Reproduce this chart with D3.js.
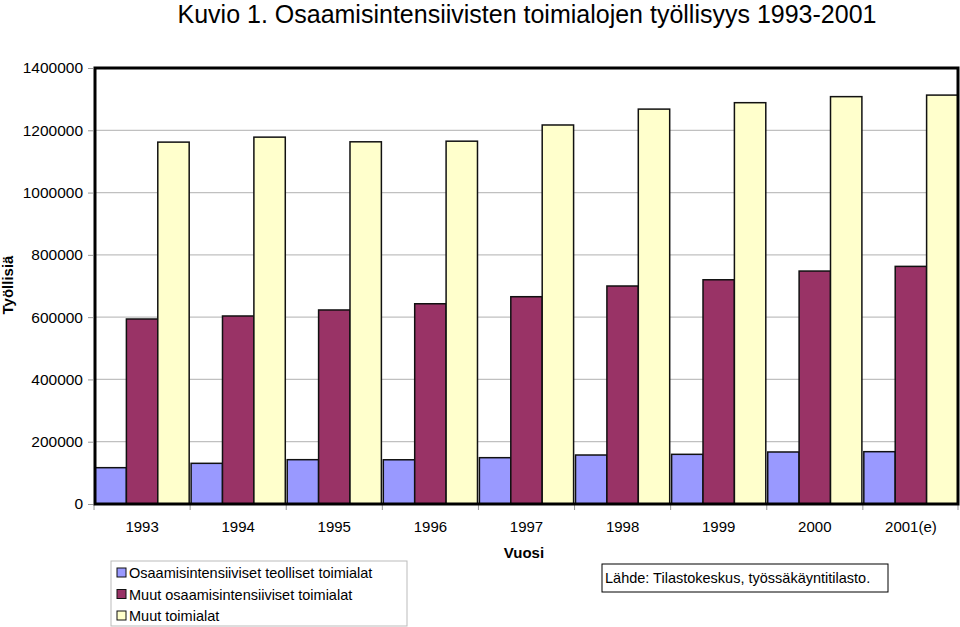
<!DOCTYPE html>
<html>
<head>
<meta charset="utf-8">
<script src="https://cdn.jsdelivr.net/npm/d3@7"></script>
<style>
  body { margin: 0; background: #fff; }
  svg { display: block; font-family: Arial, "Liberation Sans", Helvetica, sans-serif; }
</style>
</head>
<body>
<svg id="chart" width="960" height="627"></svg>
<script>
// years on the x axis
var years = ["1993", "1994", "1995", "1996", "1997", "1998", "1999", "2000", "2001(e)"];

// employed persons per series
var teolliset = [116600, 130600, 142300, 142000, 148700, 157300, 159500, 167000, 168000];
var muutOsaamis = [594000, 603700, 623000, 643000, 665600, 700000, 720000, 748000, 763000];
var muutToimialat = [1162000, 1178000, 1163000, 1165000, 1217000, 1268000, 1288600, 1308000, 1313000];

var seriesNames = ["Osaamisintensiiviset teolliset toimialat", "Muut osaamisintensiiviset toimialat", "Muut toimialat"];
var seriesColors = ["#9999ff", "#993366", "#ffffcc"];
var yTicks = [0, 200000, 400000, 600000, 800000, 1000000, 1200000, 1400000];

var series = [teolliset, muutOsaamis, muutToimialat];

var svg = d3.select("#chart");
var plotLeft = 95, plotRight = 958, plotTop = 68, plotBottom = 504;

var x = d3.scaleBand().domain(years).range([plotLeft, plotRight]).paddingInner(0.02).paddingOuter(0);
var xs = d3.scaleBand().domain([0, 1, 2]).range([0, x.bandwidth()]);
var y = d3.scaleLinear().domain([0, 1400000]).range([plotBottom, plotTop]);

// title
svg.append("text")
  .attr("x", 527).attr("y", 23)
  .attr("text-anchor", "middle")
  .style("font-size", "25px")
  .text("Kuvio 1. Osaamisintensiivisten toimialojen työllisyys 1993-2001");

// gridlines
svg.append("g").selectAll("line")
  .data(yTicks.slice(1, -1))
  .enter().append("line")
  .attr("x1", plotLeft).attr("x2", plotRight)
  .attr("y1", function(d) { return y(d); })
  .attr("y2", function(d) { return y(d); })
  .style("stroke", "#c0c0c0").style("stroke-width", 1.2);

// y axis
var yAxis = svg.append("g")
  .attr("transform", "translate(" + (plotLeft - 2) + ",0)")
  .call(d3.axisLeft(y).tickValues(yTicks).tickSize(5).tickPadding(5).tickFormat(d3.format("d")));
yAxis.select(".domain").remove();
yAxis.selectAll(".tick line").style("stroke", "#999");
yAxis.selectAll("text").style("font-size", "15.5px").style("fill", "#000");

// x axis ticks at group boundaries
var bounds = years.map(function(d) { return x(d) - x.step() * x.paddingInner() / 2; }).concat([plotRight]);
svg.append("g").selectAll("line")
  .data(bounds)
  .enter().append("line")
  .attr("x1", function(d) { return d; }).attr("x2", function(d) { return d; })
  .attr("y1", plotBottom).attr("y2", plotBottom + 6)
  .style("stroke", "#999");

svg.append("g").selectAll("text")
  .data(years)
  .enter().append("text")
  .attr("x", function(d) { return x(d) + x.bandwidth() / 2; })
  .attr("y", 532)
  .attr("text-anchor", "middle")
  .style("font-size", "15px")
  .text(function(d) { return d; });

// bars
var groups = svg.append("g").selectAll("g")
  .data(years)
  .enter().append("g")
  .attr("transform", function(d) { return "translate(" + x(d) + ",0)"; });

groups.selectAll("rect")
  .data(function(d, i) { return series.map(function(s, j) { return { s: j, v: s[i] }; }); })
  .enter().append("rect")
  .attr("x", function(d) { return xs(d.s); })
  .attr("width", xs.bandwidth())
  .attr("y", function(d) { return y(d.v); })
  .attr("height", function(d) { return plotBottom - y(d.v); })
  .style("fill", function(d) { return seriesColors[d.s]; })
  .style("stroke", "#111")
  .style("stroke-width", 1.5);

// plot frame
svg.append("rect")
  .attr("x", plotLeft).attr("y", plotTop)
  .attr("width", plotRight - plotLeft).attr("height", plotBottom - plotTop)
  .style("fill", "none").style("stroke", "#000").style("stroke-width", 3);

// axis titles
svg.append("text")
  .attr("transform", "translate(13,285) rotate(-90)")
  .attr("text-anchor", "middle")
  .style("font-size", "15px").style("font-weight", "bold")
  .text("Työllisiä");

svg.append("text")
  .attr("x", 524).attr("y", 558)
  .attr("text-anchor", "middle")
  .style("font-size", "15px").style("font-weight", "bold")
  .text("Vuosi");

// legend
var legend = svg.append("g");
legend.append("rect")
  .attr("x", 111).attr("y", 561).attr("width", 296).attr("height", 65)
  .style("fill", "#fff").style("stroke", "#bbb");

var items = legend.selectAll("g.item")
  .data(seriesNames)
  .enter().append("g")
  .attr("class", "item")
  .attr("transform", function(d, i) { return "translate(117," + (573 + i * 21.5) + ")"; });

items.append("rect")
  .attr("x", 0).attr("y", -5).attr("width", 9).attr("height", 9)
  .style("fill", function(d, i) { return seriesColors[i]; })
  .style("stroke", "#111").style("stroke-width", 1);

items.append("text")
  .attr("x", 12).attr("y", 5)
  .style("font-size", "14.5px")
  .text(function(d) { return d; });

// source box
svg.append("rect")
  .attr("x", 602).attr("y", 564).attr("width", 286).attr("height", 28)
  .style("fill", "#fff").style("stroke", "#000").style("stroke-width", 1);
svg.append("text")
  .attr("x", 605).attr("y", 583)
  .style("font-size", "14.5px")
  .text("Lähde: Tilastokeskus, työssäkäyntitilasto.");
</script>
</body>
</html>
